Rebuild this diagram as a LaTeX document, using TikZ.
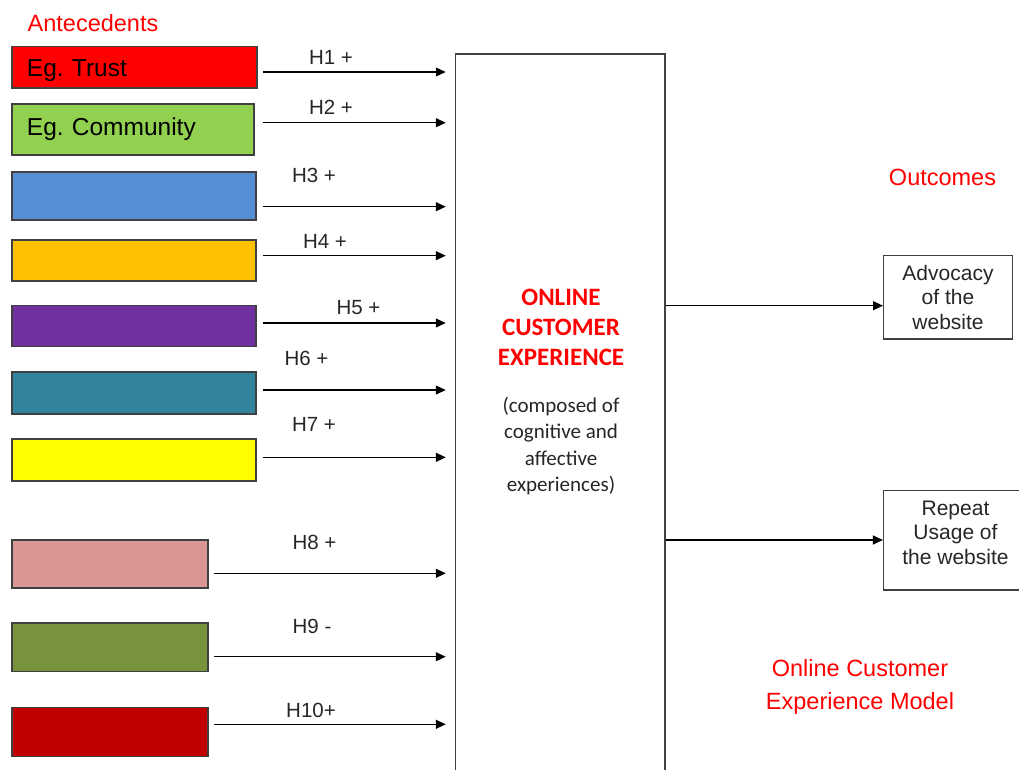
\documentclass[tikz,border=0pt]{standalone}
\usepackage{fontspec}
\setmainfont{Liberation Sans}
\newfontfamily\calibri{Carlito}
\usepackage{tikz}
\usetikzlibrary{arrows.meta}
\frenchspacing

\begin{document}
\begin{tikzpicture}[x=1pt,y=-1pt]
\tikzstyle{abox}=[rectangle,draw=black!75,line width=1.2pt,inner sep=0pt,minimum width=244pt]
\tikzstyle{obox}=[rectangle,draw=black!75,line width=1.2pt,inner sep=0pt,align=center,text=black!85,font=\fontsize{21}{24.5}\selectfont]
\tikzstyle{hyp}=[line width=1.3pt,-{Triangle[length=10pt,width=9pt]}]
\tikzstyle{hlab}=[inner sep=0pt,text=black!85,font=\fontsize{20.5}{24}\selectfont]
\tikzstyle{red}=[inner sep=0pt,text=red,align=center,font=\fontsize{23.5}{33}\selectfont]
\tikzstyle{eg}=[text width=215pt,inner xsep=15pt,align=left,font=\fontsize{24.5}{28}\selectfont]
\useasboundingbox (0,0) rectangle (1019,769);
\clip (0,0) rectangle (1019,769);
% antecedents
\node[red] (ant) at (93,22.7) {Antecedents};
\node[abox,eg,fill={rgb,255:red,255;green,0;blue,0},minimum width=245pt,minimum height=41.3pt,text height=23pt] (1) at (134.5,67.4) {Eg. Trust};
\node[abox,eg,fill={rgb,255:red,146;green,208;blue,80},minimum width=242pt,minimum height=51pt,text width=212pt] (2) at (133,129.5) {Eg. Community};
\node[abox,fill={rgb,255:red,85;green,142;blue,213},minimum height=48pt] (3) at (134,196) {};
\node[abox,fill={rgb,255:red,255;green,192;blue,0},minimum height=41pt] (4) at (134,260.5) {};
\node[abox,fill={rgb,255:red,112;green,48;blue,160},minimum height=41.7pt] (5) at (134,326) {};
\node[abox,fill={rgb,255:red,49;green,132;blue,155},minimum height=42pt] (6) at (134,393) {};
\node[abox,fill={rgb,255:red,255;green,255;blue,0},minimum height=42pt] (7) at (134,460) {};
\node[abox,fill={rgb,255:red,217;green,150;blue,148},minimum width=196pt,minimum height=48pt] (8) at (110,564) {};
\node[abox,fill={rgb,255:red,119;green,147;blue,60},minimum width=196pt,minimum height=48.7pt] (9) at (110,647.3) {};
\node[abox,fill={rgb,255:red,192;green,0;blue,0},minimum width=196pt,minimum height=48.3pt] (10) at (110,732) {};
% main box
\node[rectangle,draw=black!75,line width=1.5pt,minimum width=209.5pt,minimum height=746pt] (oce) at (560.25,427) {};
\node[inner sep=0pt,text=red,align=center,font=\calibri\bfseries\fontsize{25}{30}\selectfont] (title) at (561,327) {ONLINE\\CUSTOMER\\EXPERIENCE};
\node[inner sep=0pt,text=black!85,align=center,font=\calibri\fontsize{21}{26.3}\selectfont] (note) at (561,446) {(composed of\\cognitive and\\affective\\experiences)};
% hypotheses
\coordinate (s1) at (263,72);
\coordinate (s2) at (263,122.7);
\coordinate (s3) at (263,206.7);
\coordinate (s4) at (263,255.7);
\coordinate (s5) at (263,323);
\coordinate (s6) at (263,390);
\coordinate (s7) at (263,457.3);
\coordinate (s8) at (214,573.3);
\coordinate (s9) at (214,656.7);
\coordinate (s10) at (214,724.3);
\draw[hyp,shorten >=9pt] (s1) -- (s1 -| oce.west);
\draw[hyp,shorten >=9pt] (s2) -- (s2 -| oce.west);
\draw[hyp,shorten >=9pt] (s3) -- (s3 -| oce.west);
\draw[hyp,shorten >=9pt] (s4) -- (s4 -| oce.west);
\draw[hyp,shorten >=9pt] (s5) -- (s5 -| oce.west);
\draw[hyp,shorten >=9pt] (s6) -- (s6 -| oce.west);
\draw[hyp,shorten >=9pt] (s7) -- (s7 -| oce.west);
\draw[hyp,shorten >=9pt] (s8) -- (s8 -| oce.west);
\draw[hyp,shorten >=9pt] (s9) -- (s9 -| oce.west);
\draw[hyp,shorten >=9pt] (s10) -- (s10 -| oce.west);
\node[hlab] (h1) at (331,57) {H1 +};
\node[hlab] (h2) at (331,107) {H2 +};
\node[hlab] (h3) at (314,175) {H3 +};
\node[hlab] (h4) at (325,241.7) {H4 +};
\node[hlab] (h5) at (358.5,308) {H5 +};
\node[hlab] (h6) at (306.5,358) {H6 +};
\node[hlab] (h7) at (314,424) {H7 +};
\node[hlab] (h8) at (314.5,542.7) {H8 +};
\node[hlab] (h9) at (312,626.7) {H9 -};
\node[hlab] (h10) at (311,710.7) {H10+};
% outcomes
\node[red] (out) at (942.5,177) {Outcomes};
\node[obox,minimum width=128.8pt,minimum height=83.3pt] (adv) at (948,297.3) {Advocacy\\of the\\website};
\node[obox,minimum width=144pt,minimum height=99.3pt,text depth=16pt] (rep) at (955.5,540.3) {Repeat\\Usage of\\the website};
\coordinate (t1) at (adv.west |- 0,305.7);
\coordinate (t2) at (rep.west |- 0,540);
\draw[hyp] (t1 -| oce.east) -- (t1);
\draw[hyp] (t2 -| oce.east) -- (t2);
\node[red] (model) at (860,686.5) {Online Customer\\Experience Model};
\end{tikzpicture}
\end{document}
